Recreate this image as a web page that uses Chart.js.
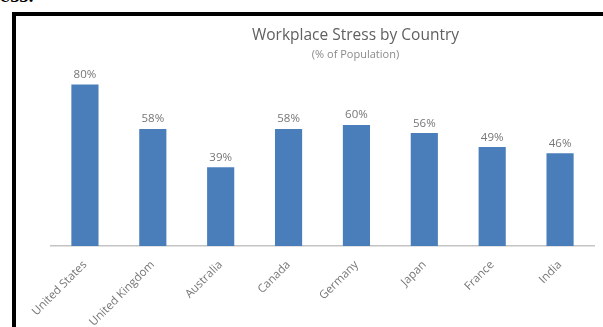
<html>
<head>
    <title>Workplace Stress by Country</title>
    <script src="https://cdn.jsdelivr.net/npm/chart.js"></script>
    <style>
        body { margin: 0; width: 603px; height: 327px; overflow: hidden; background: #fff; position: relative; }
        #frame { position: absolute; left: 12px; top: 12px; width: 700px; height: 400px; border-left: 4px solid #000; border-top: 4px solid #000; }
        #chartBox { position: absolute; left: 16px; top: 16px; }
        #cut { position: absolute; left: 0; top: -13px; font: bold 16px 'DejaVu Serif', serif; color: #000; }
    </style>
</head>
<body>
    <div id="cut">ess.</div>
    <div id="frame"></div>
    <div id="chartBox">
        <canvas id="stressChart" width="679" height="310"></canvas>
    </div>

    <script>
        // values
        const countries = ['United States', 'United Kingdom', 'Australia', 'Canada', 'Germany', 'Japan', 'France', 'India'];
        const stressPct = [80, 58, 39, 58, 60, 56, 49, 46];

        Chart.defaults.font.family = "'Open Sans', sans-serif";

        // percent labels on top of each bar
        const barLabels = {
            id: 'barLabels',
            afterDatasetsDraw(chart) {
                const ctx = chart.ctx;
                const meta = chart.getDatasetMeta(0);
                ctx.save();
                ctx.font = "11.5px 'Open Sans', sans-serif";
                ctx.fillStyle = '#767676';
                ctx.textAlign = 'center';
                ctx.textBaseline = 'bottom';
                meta.data.forEach((bar, i) => {
                    ctx.fillText(stressPct[i] + '%', bar.x, bar.y - 4);
                });
                ctx.restore();
            }
        };

        const ctx = document.getElementById('stressChart').getContext('2d');
        new Chart(ctx, {
            type: 'bar',
            data: {
                labels: countries,
                datasets: [{
                    data: stressPct,
                    backgroundColor: '#4a7ebb',
                    categoryPercentage: 1,
                    barPercentage: 0.4,
                    yAxisID: 'y'
                }]
            },
            options: {
                responsive: false,
                animation: false,
                devicePixelRatio: 1,
                plugins: {
                    legend: { display: false },
                    tooltip: { enabled: false },
                    title: {
                        display: true,
                        text: 'Workplace Stress by Country',
                        color: '#606060',
                        font: { size: 15.5, weight: 'normal' },
                        padding: { top: 10, bottom: 2 }
                    },
                    subtitle: {
                        display: true,
                        text: '(% of Population)',
                        color: '#8a8a8a',
                        font: { size: 11 },
                        padding: { top: 2, bottom: 2.55 }
                    }
                },
                scales: {
                    x: {
                        grid: { display: false },
                        border: { display: true, color: '#c4c4c4', width: 1.5 },
                        ticks: {
                            autoSkip: false,
                            minRotation: 45,
                            maxRotation: 45,
                            padding: 4,
                            color: '#777',
                            font: { size: 11.5 }
                        },
                        afterFit: (scale) => { scale.height = 80; }
                    },
                    y: {
                        min: 0,
                        max: 90,
                        grid: { display: false },
                        border: { display: false },
                        ticks: { display: false },
                        afterFit: (scale) => { scale.width = 35; }
                    },
                    y2: {
                        type: 'linear',
                        position: 'right',
                        grid: { display: false },
                        border: { display: false },
                        ticks: { display: false },
                        afterFit: (scale) => { scale.width = 101; }
                    }
                }
            },
            plugins: [barLabels]
        });
    </script>
</body>
</html>
